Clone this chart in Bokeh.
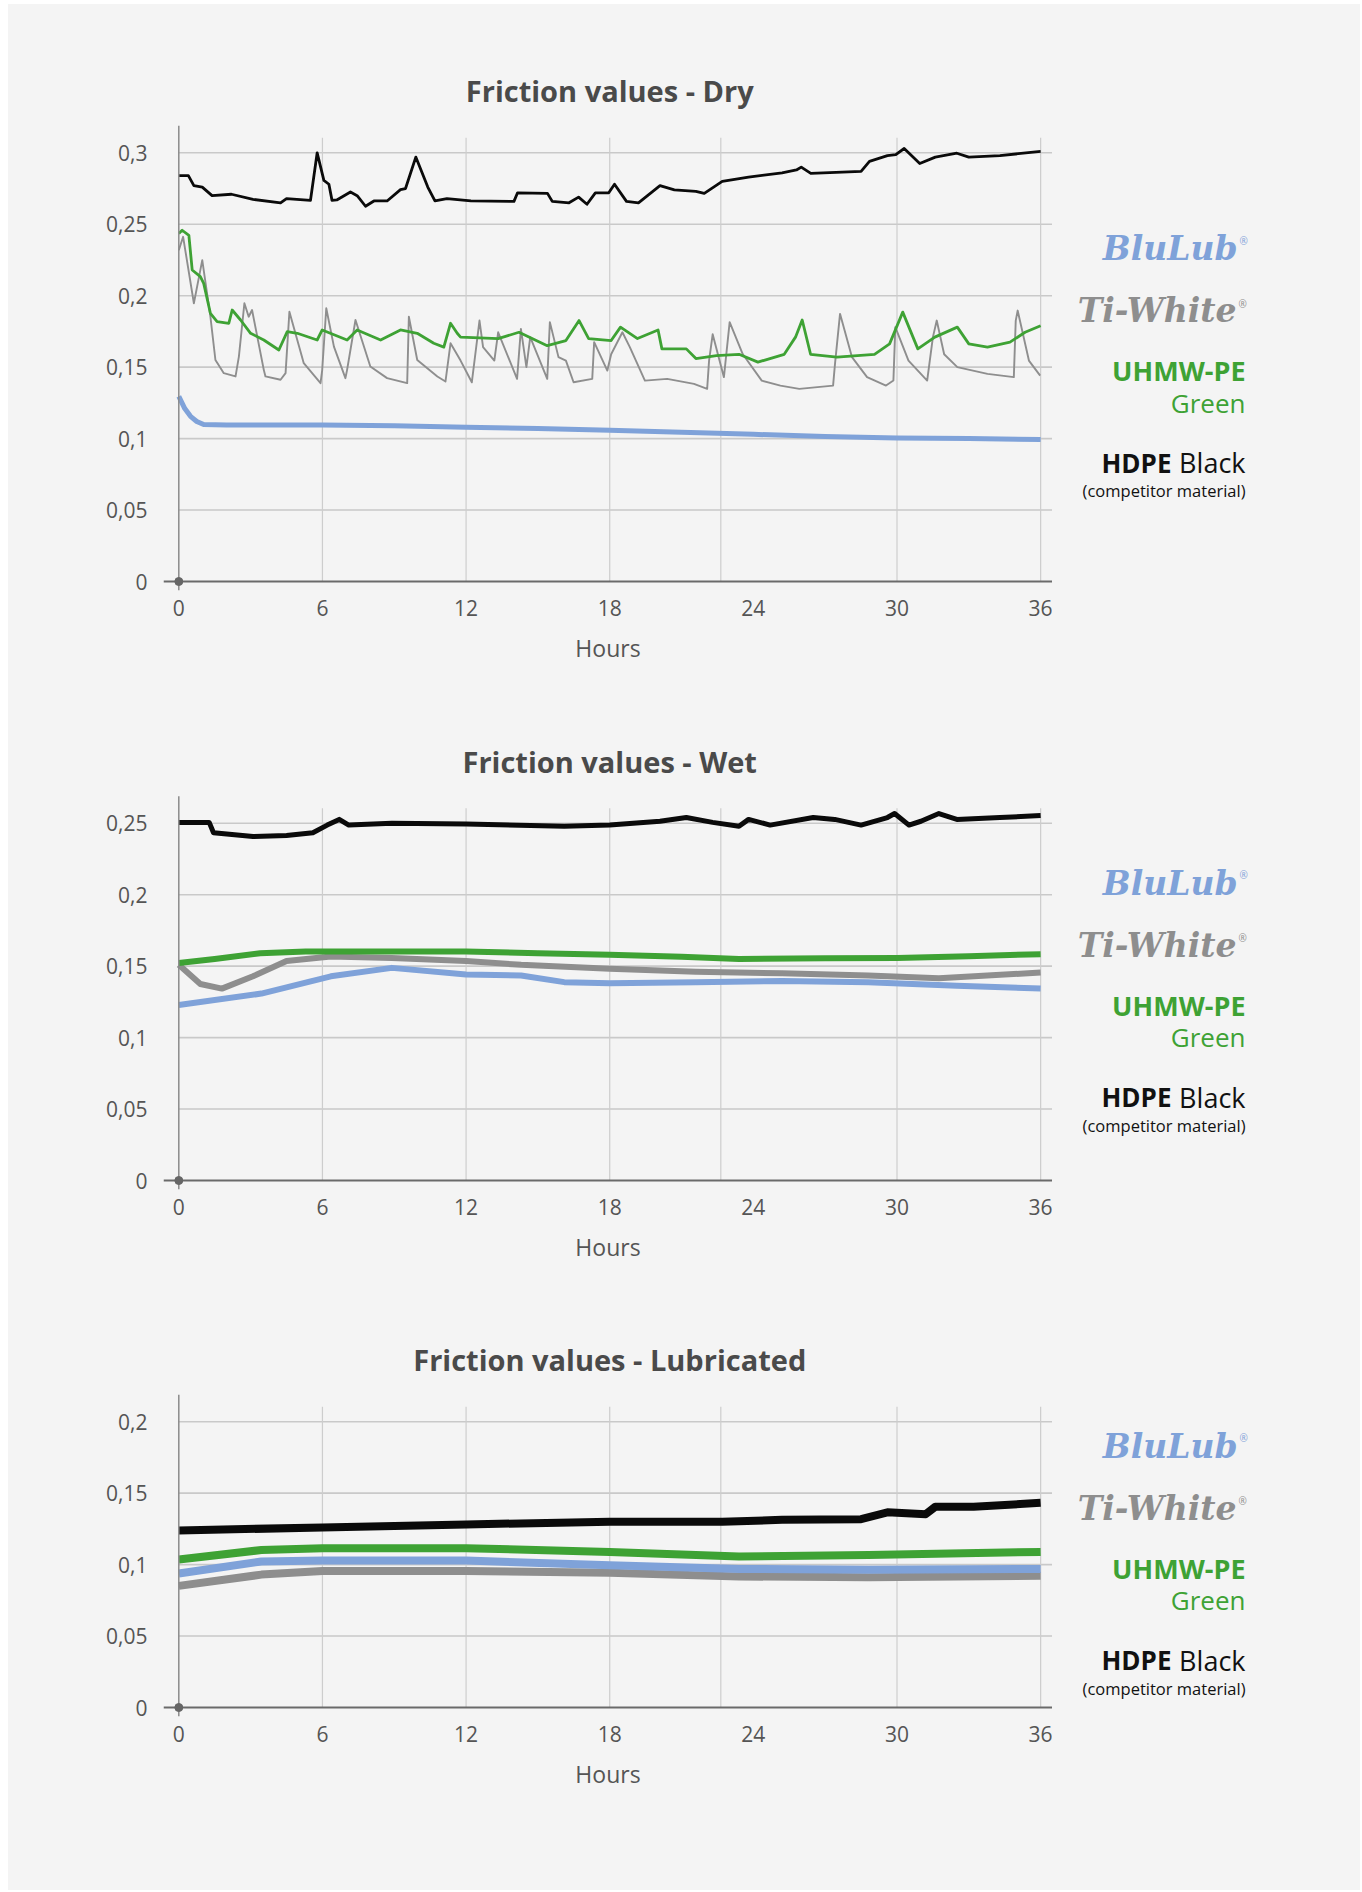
from bokeh.plotting import figure
from bokeh.layouts import column, row
from bokeh.models import Range1d, FixedTicker, CustomJSTickFormatter, Label
from bokeh.embed import file_html
from bokeh.resources import INLINE

# ---------------- data ----------------
hour_ticks = [0, 6, 12, 18, 24, 30, 36]
grid_hours = [6, 12, 18, 22.64, 30, 36]     # vertical grid lines as drawn in the source chart
dry_ticks = [0, 0.05, 0.1, 0.15, 0.2, 0.25, 0.3]
wet_ticks = [0, 0.05, 0.1, 0.15, 0.2, 0.25]
lub_ticks = [0, 0.05, 0.1, 0.15, 0.2]

titles = ["Friction values - Dry", "Friction values - Wet", "Friction values - Lubricated"]
x_label = "Hours"

# Dry
dry_black_h = [0, 0.4, 0.63, 0.98, 1.39, 2.2, 3.1, 4.25, 4.5, 5.5, 5.78, 6.06, 6.27, 6.4, 6.6, 7.17, 7.45, 7.8, 8.15, 8.7,
               9.26, 9.47, 9.9, 10.4, 10.7, 11.2, 12.2, 14.0, 14.15, 15.4, 15.6, 16.3, 16.7, 17.05, 17.4, 17.96, 18.2, 18.7,
               19.2, 20.1, 20.7, 21.6, 21.95, 22.7, 23.8, 25.2, 25.8, 26.0, 26.4, 28.5, 28.85, 29.6, 29.95, 30.3, 30.95,
               31.6, 32.5, 33.0, 34.3, 36.0]
dry_black = [0.284, 0.284, 0.277, 0.276, 0.270, 0.271, 0.2674, 0.265, 0.268, 0.2667, 0.300, 0.2807, 0.278, 0.2667, 0.267,
             0.2726, 0.270, 0.2626, 0.2663, 0.2663, 0.2742, 0.275, 0.297, 0.276, 0.2663, 0.268, 0.2663, 0.266, 0.272, 0.2716,
             0.266, 0.265, 0.269, 0.264, 0.272, 0.272, 0.278, 0.266, 0.265, 0.277, 0.274, 0.273, 0.2716, 0.280, 0.283,
             0.286, 0.288, 0.290, 0.2856, 0.287, 0.294, 0.298, 0.2988, 0.303, 0.2925, 0.297, 0.2997, 0.297, 0.298, 0.301]

dry_green_h = [0, 0.14, 0.42, 0.56, 0.9, 1.04, 1.32, 1.6, 2.09, 2.23, 2.58, 3.0, 3.55, 4.18, 4.53, 4.95, 5.78, 5.99, 7.03,
               7.45, 8.43, 9.26, 9.96, 10.65, 11.07, 11.35, 11.63, 11.77, 13.34, 14.21, 15.39, 16.17, 16.72, 17.12, 18.06,
               18.45, 19.16, 20.02, 20.18, 21.2, 21.6, 22.46, 23.4, 24.19, 25.29, 25.76, 26.04, 26.39, 27.49, 29.06,
               29.69, 30.24, 30.87, 31.58, 32.52, 33.0, 33.78, 34.72, 35.35, 36.0]
dry_green = [0.2435, 0.2458, 0.2423, 0.218, 0.2133, 0.2086, 0.1877, 0.1819, 0.1807, 0.190, 0.183, 0.1737, 0.169, 0.162,
             0.1749, 0.1737, 0.169, 0.176, 0.169, 0.176, 0.169, 0.176, 0.1737, 0.1667, 0.164, 0.1807, 0.1737, 0.171, 0.170,
             0.1744, 0.165, 0.1686, 0.1826, 0.170, 0.1686, 0.178, 0.170, 0.176, 0.1628, 0.1628, 0.156, 0.158, 0.159,
             0.1535, 0.159, 0.171, 0.183, 0.159, 0.157, 0.159, 0.1663, 0.1885, 0.1628, 0.171, 0.178, 0.1663, 0.164,
             0.1675, 0.1744, 0.179]

dry_gray_h = [0, 0.18, 0.63, 0.98, 1.32, 1.53, 1.88, 2.37, 2.51, 2.74, 2.92, 3.06, 3.55, 3.62, 4.25, 4.46, 4.62, 5.22, 5.92,
              5.99, 6.16, 6.48, 6.96, 7.03, 7.38, 8.0, 8.7, 9.54, 9.61, 9.96, 10.8, 11.14, 11.35, 11.77, 12.24, 12.56,
              12.71, 13.18, 13.34, 14.13, 14.29, 14.52, 14.68, 15.39, 15.5, 15.86, 16.17, 16.49, 17.27, 17.35, 17.9,
              18.06, 18.53, 18.84, 19.47, 20.4, 21.52, 22.07, 22.15, 22.3, 22.77, 23.01, 23.56, 24.35, 25.13, 25.92,
              27.33, 27.41, 27.62, 28.12, 28.75, 29.54, 29.85, 29.93, 30.48, 31.26, 31.5, 31.66, 31.97, 32.52, 33.78,
              34.88, 34.96, 35.04, 35.51, 35.98]
dry_gray = [0.2318, 0.2412, 0.1947, 0.2249, 0.1853, 0.155, 0.1458, 0.1435, 0.1574, 0.1947, 0.1853, 0.19, 0.1481, 0.1435,
            0.1412, 0.1458, 0.1888, 0.1528, 0.1388, 0.148, 0.1912, 0.1644, 0.1423, 0.1481, 0.183, 0.1505, 0.1423, 0.1388,
            0.1853, 0.155, 0.1435, 0.14, 0.1667, 0.1546, 0.1394, 0.1826, 0.164, 0.1546, 0.1744, 0.1418, 0.1768, 0.15,
            0.171, 0.1418, 0.1815, 0.157, 0.1546, 0.1394, 0.1418, 0.1675, 0.1476, 0.159, 0.1744, 0.164, 0.1406, 0.1418,
            0.1383, 0.1348, 0.1546, 0.173, 0.143, 0.1815, 0.159, 0.1406, 0.1371, 0.1348, 0.1371, 0.1523, 0.1873, 0.157,
            0.143, 0.1371, 0.1406, 0.178, 0.1546, 0.1406, 0.171, 0.1826, 0.159, 0.15, 0.1453, 0.143, 0.1826, 0.1896,
            0.1546, 0.1441]

dry_blue_h = [0, 0.25, 0.49, 0.75, 1.04, 2, 4, 6, 9, 12, 15, 18, 21, 24, 27, 30, 33, 36]
dry_blue = [0.1295, 0.121, 0.1156, 0.112, 0.1098, 0.1095, 0.1095, 0.1095, 0.109, 0.108, 0.107, 0.1058, 0.1045, 0.103,
            0.1015, 0.1005, 0.1, 0.0993]

# Wet
wet_black_h = [0, 1.27, 1.45, 3.1, 4.5, 5.6, 6.2, 6.7, 7.1, 8.9, 12, 16.1, 18, 20.1, 21.2, 22.3, 23.4, 23.8, 24.7, 26.5,
               27.4, 28.5, 29.6, 29.9, 30.5, 31.0, 31.75, 32.5, 34.3, 36]
wet_black = [0.2506, 0.2506, 0.2434, 0.2407, 0.2415, 0.2434, 0.2487, 0.2527, 0.2487, 0.25, 0.2495, 0.2479, 0.2487, 0.2514,
             0.254, 0.2506, 0.2479, 0.2527, 0.2487, 0.254, 0.2527, 0.2487, 0.254, 0.2568, 0.2487, 0.2514, 0.2568, 0.2527,
             0.254, 0.2554]
wet_green_h = [0, 1.5, 3.4, 5.3, 8, 12, 15, 18, 21, 23.4, 27, 30, 33, 36]
wet_green = [0.1522, 0.155, 0.159, 0.1603, 0.1603, 0.1603, 0.159, 0.158, 0.1565, 0.155, 0.1555, 0.1557, 0.157, 0.1584]
wet_gray_h = [0, 0.9, 1.8, 3.1, 4.5, 6.35, 8.9, 12, 14.3, 18, 21.6, 25.2, 28.8, 31.75, 36]
wet_gray = [0.1509, 0.1375, 0.1343, 0.1429, 0.1536, 0.1568, 0.1557, 0.1536, 0.1509, 0.1482, 0.146, 0.145, 0.1434, 0.1415,
            0.1455]
wet_blue_h = [0, 3.45, 6.35, 8.9, 12, 14.3, 16.1, 18, 21.6, 25.2, 28.8, 32.5, 36]
wet_blue = [0.1228, 0.1308, 0.1429, 0.1488, 0.1442, 0.1434, 0.1388, 0.138, 0.1388, 0.1396, 0.1388, 0.1362, 0.1343]

# Lubricated
lub_black_h = [0, 6, 12, 18, 22.7, 25.2, 28.5, 29.6, 31.2, 31.6, 33.2, 36]
lub_black = [0.1239, 0.126, 0.1281, 0.13, 0.13, 0.1313, 0.1318, 0.1366, 0.1353, 0.1405, 0.1405, 0.1432]
lub_h = [0, 3.45, 6, 12, 18, 23.4, 28.8, 36]
lub_green = [0.1036, 0.1102, 0.1115, 0.1115, 0.1089, 0.1057, 0.1067, 0.1089]
lub_blue = [0.0938, 0.1022, 0.1028, 0.1028, 0.0996, 0.097, 0.0964, 0.097]
lub_gray = [0.0851, 0.093, 0.0956, 0.0956, 0.0943, 0.0917, 0.0911, 0.0922]

# ---------------- style ----------------
BG = "#f4f4f4"
C_BLUE = "#7fa2d9"
C_GRAY = "#8e8e8e"
C_GREEN = "#3ea234"
C_BLACK = "#0a0a0a"
FONT = "Open Sans"

TOTAL_W = 1352
PX_H = 23.94      # pixels per hour
PX_V = 1429.0     # pixels per friction unit
FRAME_LEFT = 155
FRAME_W = 889
CW = FRAME_LEFT + FRAME_W     # chart figure width
LW = TOTAL_W - CW             # legend figure width
X0_OFF = 15.3                 # px between frame left and x=0

x_start = -X0_OFF / PX_H
x_end = x_start + FRAME_W / PX_H
y_start = -9 / PX_V


def make_chart(title, ticks, series, height, frame_h):
    y_end = y_start + frame_h / PX_V
    p = figure(width=CW, height=height, output_backend="svg", toolbar_location=None,
               x_range=Range1d(x_start, x_end), y_range=Range1d(y_start, y_end),
               min_border_left=FRAME_LEFT, min_border_right=0,
               min_border_top=0, min_border_bottom=height - frame_h,
               background_fill_color=BG, border_fill_color=BG, outline_line_color=None)
    p.xgrid.visible = False
    p.ygrid.visible = False

    top_tick = ticks[-1]
    axis_top = top_tick + 27 / PX_V

    # grid lines
    hy = [t for t in ticks if t > 0]
    p.segment(x0=[0] * len(hy), y0=hy, x1=[x_end] * len(hy), y1=hy, line_color="#c9c9c9", line_width=1.6)
    gtop = top_tick + 15 / PX_V
    p.segment(x0=grid_hours, y0=[0] * len(grid_hours), x1=grid_hours, y1=[gtop] * len(grid_hours),
              line_color="#cdcdcd", line_width=1.2)

    # series
    for (sx, sy, col, lw) in series:
        p.line(sx, sy, line_color=col, line_width=lw, line_join="round")

    # axes lines
    p.segment(x0=[0], y0=[y_start], x1=[0], y1=[axis_top], line_color="#8a8a8a", line_width=1.5)
    p.segment(x0=[x_start], y0=[0], x1=[x_end], y1=[0], line_color="#6a6a6a", line_width=2)
    p.scatter([0], [0], size=8, color="#666666")

    fmt = CustomJSTickFormatter(code="return tick.toString().replace('.', ',')")
    for ax in p.yaxis:
        ax.ticker = FixedTicker(ticks=ticks)
        ax.formatter = fmt
    for ax in p.xaxis:
        ax.ticker = FixedTicker(ticks=hour_ticks)
        ax.axis_label = x_label
    for ax in list(p.xaxis) + list(p.yaxis):
        ax.axis_line_color = None
        ax.major_tick_line_color = None
        ax.minor_tick_line_color = None
        ax.major_label_text_font = FONT
        ax.major_label_text_font_size = "21px"
        ax.major_label_text_color = "#555555"
    p.yaxis.major_label_standoff = 10
    p.xaxis.major_label_standoff = 3
    p.xaxis.axis_label_text_font = FONT
    p.xaxis.axis_label_text_font_size = "23px"
    p.xaxis.axis_label_text_font_style = "normal"
    p.xaxis.axis_label_text_color = "#555555"
    p.xaxis.axis_label_standoff = 13

    # title
    p.add_layout(Label(x=18, y=axis_top + 35 / PX_V, text=title, text_align="center", text_baseline="middle",
                       text_font=FONT, text_font_style="bold", text_font_size="29px", text_color="#4a4a4a"))
    return p


def make_legend(height, frame_h, top_tick):
    # frame of this panel coincides with the chart frame (top at 0, frame_h px tall);
    # y is measured in px upward from the panel's bottom edge
    lp = figure(width=LW, height=height, output_backend="svg", toolbar_location=None,
                x_range=Range1d(0, LW), y_range=Range1d(height - frame_h, height),
                x_axis_type=None, y_axis_type=None,
                min_border_left=0, min_border_right=0, min_border_top=0, min_border_bottom=height - frame_h,
                background_fill_color=BG, border_fill_color=BG, outline_line_color=None)
    axis_top_px = frame_h - 9 - top_tick * PX_V - 27
    centre = (axis_top_px + frame_h) / 2 + 11.5

    def ly(off):
        return height - (centre + off)

    xr = 193
    lp.add_layout(Label(x=185, y=ly(-121), text="BluLub", text_align="right", text_baseline="middle",
                        text_font="DejaVu Serif", text_font_style="bold italic", text_font_size="33px",
                        text_color=C_BLUE))
    lp.add_layout(Label(x=187, y=ly(-129), text="®", text_align="left", text_baseline="middle",
                        text_font=FONT, text_font_size="10px", text_color=C_BLUE))
    lp.add_layout(Label(x=184, y=ly(-59), text="Ti-White", text_align="right", text_baseline="middle",
                        text_font="DejaVu Serif", text_font_style="bold italic", text_font_size="33px",
                        text_color=C_GRAY))
    lp.add_layout(Label(x=186, y=ly(-66), text="®", text_align="left", text_baseline="middle",
                        text_font=FONT, text_font_size="10px", text_color=C_GRAY))
    lp.add_layout(Label(x=xr, y=ly(1), text="UHMW-PE", text_align="right", text_baseline="middle",
                        text_font=FONT, text_font_style="bold", text_font_size="27px", text_color=C_GREEN))
    lp.add_layout(Label(x=xr, y=ly(33), text="Green", text_align="right", text_baseline="middle",
                        text_font=FONT, text_font_size="26px", text_color=C_GREEN))
    lp.add_layout(Label(x=xr, y=ly(93), text="Black", text_align="right", text_baseline="middle",
                        text_font=FONT, text_font_size="27px", text_color="#111111"))
    lp.add_layout(Label(x=119, y=ly(93), text="HDPE", text_align="right", text_baseline="middle",
                        text_font=FONT, text_font_style="bold", text_font_size="26px", text_color="#111111"))
    lp.add_layout(Label(x=xr, y=ly(121), text="(competitor material)", text_align="right", text_baseline="middle",
                        text_font=FONT, text_font_size="16.5px", text_color="#111111"))
    return lp


p1 = make_chart(titles[0], dry_ticks,
                [(dry_blue_h, dry_blue, C_BLUE, 5), (dry_gray_h, dry_gray, C_GRAY, 1.9),
                 (dry_green_h, dry_green, C_GREEN, 2.8), (dry_black_h, dry_black, C_BLACK, 2.8)],
                696, 586)
p2 = make_chart(titles[1], wet_ticks,
                [(wet_blue_h, wet_blue, C_BLUE, 6), (wet_gray_h, wet_gray, C_GRAY, 6),
                 (wet_green_h, wet_green, C_GREEN, 6), (wet_black_h, wet_black, C_BLACK, 5)],
                590, 489)
p3 = make_chart(titles[2], lub_ticks,
                [(lub_h, lub_gray, C_GRAY, 8), (lub_h, lub_blue, C_BLUE, 8),
                 (lub_h, lub_green, C_GREEN, 8), (lub_black_h, lub_black, C_BLACK, 8)],
                600, 426)

l1 = make_legend(696, 586, dry_ticks[-1])
l2 = make_legend(590, 489, wet_ticks[-1])
l3 = make_legend(600, 426, lub_ticks[-1])

page = column(row(p1, l1, spacing=0), row(p2, l2, spacing=0), row(p3, l3, spacing=0),
              spacing=0, background=BG, margin=(4, 0, 0, 8))
open("out.html", "w").write(file_html(page, INLINE))
